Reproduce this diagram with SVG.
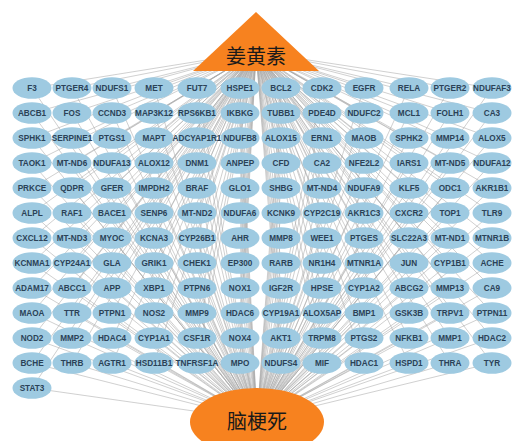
<svg xmlns="http://www.w3.org/2000/svg" width="517" height="441" viewBox="0 0 517 441">
<style>
.bg{fill:#ffffff}
#edges path{stroke:#a8a8a8;stroke-width:0.55;fill:none}
.nd ellipse{fill:#9ecae1}
.nd text{font-family:"Liberation Sans",Arial,sans-serif;font-size:8.2px;font-weight:bold;fill:#2b4257;text-anchor:middle}
.hub{fill:#f7821f}
.hubt{font-family:"Noto Sans CJK SC","Liberation Serif",serif;font-size:20px;fill:#1a1a1a;text-anchor:middle}
</style>
<rect class="bg" x="0" y="0" width="517" height="441"/>
<g id="edges">
<path d="M256 52L32 88M257 420L32 88M256 52L72 88M257 420L72 88M256 52L112 88M257 420L112 88M256 52L154 88M257 420L154 88M256 52L197 88M257 420L197 88M256 52L240 88M257 420L240 88M256 52L281 88M257 420L281 88M256 52L322 88M257 420L322 88M256 52L364 88M257 420L364 88M256 52L409 88M257 420L409 88M256 52L450 88M257 420L450 88M256 52L492 88M257 420L492 88"/>
<path d="M256 52L32 113M257 420L32 113M256 52L72 113M257 420L72 113M256 52L112 113M257 420L112 113M256 52L154 113M257 420L154 113M256 52L197 113M257 420L197 113M256 52L240 113M257 420L240 113M256 52L281 113M257 420L281 113M256 52L322 113M257 420L322 113M256 52L364 113M257 420L364 113M256 52L409 113M257 420L409 113M256 52L450 113M257 420L450 113M256 52L492 113M257 420L492 113"/>
<path d="M256 52L32 138M257 420L32 138M256 52L72 138M257 420L72 138M256 52L112 138M257 420L112 138M256 52L154 138M257 420L154 138M256 52L197 138M257 420L197 138M256 52L240 138M257 420L240 138M256 52L281 138M257 420L281 138M256 52L322 138M257 420L322 138M256 52L364 138M257 420L364 138M256 52L409 138M257 420L409 138M256 52L450 138M257 420L450 138M256 52L492 138M257 420L492 138"/>
<path d="M256 52L32 163M257 420L32 163M256 52L72 163M257 420L72 163M256 52L112 163M257 420L112 163M256 52L154 163M257 420L154 163M256 52L197 163M257 420L197 163M256 52L240 163M257 420L240 163M256 52L281 163M257 420L281 163M256 52L322 163M257 420L322 163M256 52L364 163M257 420L364 163M256 52L409 163M257 420L409 163M256 52L450 163M257 420L450 163M256 52L492 163M257 420L492 163"/>
<path d="M256 52L32 188M257 420L32 188M256 52L72 188M257 420L72 188M256 52L112 188M257 420L112 188M256 52L154 188M257 420L154 188M256 52L197 188M257 420L197 188M256 52L240 188M257 420L240 188M256 52L281 188M257 420L281 188M256 52L322 188M257 420L322 188M256 52L364 188M257 420L364 188M256 52L409 188M257 420L409 188M256 52L450 188M257 420L450 188M256 52L492 188M257 420L492 188"/>
<path d="M256 52L32 213M257 420L32 213M256 52L72 213M257 420L72 213M256 52L112 213M257 420L112 213M256 52L154 213M257 420L154 213M256 52L197 213M257 420L197 213M256 52L240 213M257 420L240 213M256 52L281 213M257 420L281 213M256 52L322 213M257 420L322 213M256 52L364 213M257 420L364 213M256 52L409 213M257 420L409 213M256 52L450 213M257 420L450 213M256 52L492 213M257 420L492 213"/>
<path d="M256 52L32 238M257 420L32 238M256 52L72 238M257 420L72 238M256 52L112 238M257 420L112 238M256 52L154 238M257 420L154 238M256 52L197 238M257 420L197 238M256 52L240 238M257 420L240 238M256 52L281 238M257 420L281 238M256 52L322 238M257 420L322 238M256 52L364 238M257 420L364 238M256 52L409 238M257 420L409 238M256 52L450 238M257 420L450 238M256 52L492 238M257 420L492 238"/>
<path d="M256 52L32 263M257 420L32 263M256 52L72 263M257 420L72 263M256 52L112 263M257 420L112 263M256 52L154 263M257 420L154 263M256 52L197 263M257 420L197 263M256 52L240 263M257 420L240 263M256 52L281 263M257 420L281 263M256 52L322 263M257 420L322 263M256 52L364 263M257 420L364 263M256 52L409 263M257 420L409 263M256 52L450 263M257 420L450 263M256 52L492 263M257 420L492 263"/>
<path d="M256 52L32 288M257 420L32 288M256 52L72 288M257 420L72 288M256 52L112 288M257 420L112 288M256 52L154 288M257 420L154 288M256 52L197 288M257 420L197 288M256 52L240 288M257 420L240 288M256 52L281 288M257 420L281 288M256 52L322 288M257 420L322 288M256 52L364 288M257 420L364 288M256 52L409 288M257 420L409 288M256 52L450 288M257 420L450 288M256 52L492 288M257 420L492 288"/>
<path d="M256 52L32 313M257 420L32 313M256 52L72 313M257 420L72 313M256 52L112 313M257 420L112 313M256 52L154 313M257 420L154 313M256 52L197 313M257 420L197 313M256 52L240 313M257 420L240 313M256 52L281 313M257 420L281 313M256 52L322 313M257 420L322 313M256 52L364 313M257 420L364 313M256 52L409 313M257 420L409 313M256 52L450 313M257 420L450 313M256 52L492 313M257 420L492 313"/>
<path d="M256 52L32 338M257 420L32 338M256 52L72 338M257 420L72 338M256 52L112 338M257 420L112 338M256 52L154 338M257 420L154 338M256 52L197 338M257 420L197 338M256 52L240 338M257 420L240 338M256 52L281 338M257 420L281 338M256 52L322 338M257 420L322 338M256 52L364 338M257 420L364 338M256 52L409 338M257 420L409 338M256 52L450 338M257 420L450 338M256 52L492 338M257 420L492 338"/>
<path d="M256 52L32 363M257 420L32 363M256 52L72 363M257 420L72 363M256 52L112 363M257 420L112 363M256 52L154 363M257 420L154 363M256 52L197 363M257 420L197 363M256 52L240 363M257 420L240 363M256 52L281 363M257 420L281 363M256 52L322 363M257 420L322 363M256 52L364 363M257 420L364 363M256 52L409 363M257 420L409 363M256 52L450 363M257 420L450 363M256 52L492 363M257 420L492 363"/>
<path d="M256 52L32 388M257 420L32 388"/>
</g>
<g id="curcumin"><polygon class="hub" points="256,12 193,71 319,71"/><text class="hubt" x="256" y="64">姜黄素</text></g>
<g id="infarction"><ellipse class="hub" cx="257" cy="422" rx="67" ry="34"/><text class="hubt" x="257" y="429">脑梗死</text></g>
<g id="nodes">
<g id="n-F3" class="nd"><ellipse cx="32" cy="88" rx="19.5" ry="10.8"/><text x="32" y="91">F3</text></g>
<g id="n-PTGER4" class="nd"><ellipse cx="72" cy="88" rx="19.5" ry="10.8"/><text x="72" y="91">PTGER4</text></g>
<g id="n-NDUFS1" class="nd"><ellipse cx="112" cy="88" rx="19.5" ry="10.8"/><text x="112" y="91">NDUFS1</text></g>
<g id="n-MET" class="nd"><ellipse cx="154" cy="88" rx="19.5" ry="10.8"/><text x="154" y="91">MET</text></g>
<g id="n-FUT7" class="nd"><ellipse cx="197" cy="88" rx="19.5" ry="10.8"/><text x="197" y="91">FUT7</text></g>
<g id="n-HSPE1" class="nd"><ellipse cx="240" cy="88" rx="19.5" ry="10.8"/><text x="240" y="91">HSPE1</text></g>
<g id="n-BCL2" class="nd"><ellipse cx="281" cy="88" rx="19.5" ry="10.8"/><text x="281" y="91">BCL2</text></g>
<g id="n-CDK2" class="nd"><ellipse cx="322" cy="88" rx="19.5" ry="10.8"/><text x="322" y="91">CDK2</text></g>
<g id="n-EGFR" class="nd"><ellipse cx="364" cy="88" rx="19.5" ry="10.8"/><text x="364" y="91">EGFR</text></g>
<g id="n-RELA" class="nd"><ellipse cx="409" cy="88" rx="19.5" ry="10.8"/><text x="409" y="91">RELA</text></g>
<g id="n-PTGER2" class="nd"><ellipse cx="450" cy="88" rx="19.5" ry="10.8"/><text x="450" y="91">PTGER2</text></g>
<g id="n-NDUFAF3" class="nd"><ellipse cx="492" cy="88" rx="19.5" ry="10.8"/><text x="492" y="91">NDUFAF3</text></g>
<g id="n-ABCB1" class="nd"><ellipse cx="32" cy="113" rx="19.5" ry="10.8"/><text x="32" y="116">ABCB1</text></g>
<g id="n-FOS" class="nd"><ellipse cx="72" cy="113" rx="19.5" ry="10.8"/><text x="72" y="116">FOS</text></g>
<g id="n-CCND3" class="nd"><ellipse cx="112" cy="113" rx="19.5" ry="10.8"/><text x="112" y="116">CCND3</text></g>
<g id="n-MAP3K12" class="nd"><ellipse cx="154" cy="113" rx="19.5" ry="10.8"/><text x="154" y="116">MAP3K12</text></g>
<g id="n-RPS6KB1" class="nd"><ellipse cx="197" cy="113" rx="19.5" ry="10.8"/><text x="197" y="116">RPS6KB1</text></g>
<g id="n-IKBKG" class="nd"><ellipse cx="240" cy="113" rx="19.5" ry="10.8"/><text x="240" y="116">IKBKG</text></g>
<g id="n-TUBB1" class="nd"><ellipse cx="281" cy="113" rx="19.5" ry="10.8"/><text x="281" y="116">TUBB1</text></g>
<g id="n-PDE4D" class="nd"><ellipse cx="322" cy="113" rx="19.5" ry="10.8"/><text x="322" y="116">PDE4D</text></g>
<g id="n-NDUFC2" class="nd"><ellipse cx="364" cy="113" rx="19.5" ry="10.8"/><text x="364" y="116">NDUFC2</text></g>
<g id="n-MCL1" class="nd"><ellipse cx="409" cy="113" rx="19.5" ry="10.8"/><text x="409" y="116">MCL1</text></g>
<g id="n-FOLH1" class="nd"><ellipse cx="450" cy="113" rx="19.5" ry="10.8"/><text x="450" y="116">FOLH1</text></g>
<g id="n-CA3" class="nd"><ellipse cx="492" cy="113" rx="19.5" ry="10.8"/><text x="492" y="116">CA3</text></g>
<g id="n-SPHK1" class="nd"><ellipse cx="32" cy="138" rx="19.5" ry="10.8"/><text x="32" y="141">SPHK1</text></g>
<g id="n-SERPINE1" class="nd"><ellipse cx="72" cy="138" rx="19.5" ry="10.8"/><text x="72" y="141">SERPINE1</text></g>
<g id="n-PTGS1" class="nd"><ellipse cx="112" cy="138" rx="19.5" ry="10.8"/><text x="112" y="141">PTGS1</text></g>
<g id="n-MAPT" class="nd"><ellipse cx="154" cy="138" rx="19.5" ry="10.8"/><text x="154" y="141">MAPT</text></g>
<g id="n-ADCYAP1R1" class="nd"><ellipse cx="197" cy="138" rx="19.5" ry="10.8"/><text x="197" y="141">ADCYAP1R1</text></g>
<g id="n-NDUFB8" class="nd"><ellipse cx="240" cy="138" rx="19.5" ry="10.8"/><text x="240" y="141">NDUFB8</text></g>
<g id="n-ALOX15" class="nd"><ellipse cx="281" cy="138" rx="19.5" ry="10.8"/><text x="281" y="141">ALOX15</text></g>
<g id="n-ERN1" class="nd"><ellipse cx="322" cy="138" rx="19.5" ry="10.8"/><text x="322" y="141">ERN1</text></g>
<g id="n-MAOB" class="nd"><ellipse cx="364" cy="138" rx="19.5" ry="10.8"/><text x="364" y="141">MAOB</text></g>
<g id="n-SPHK2" class="nd"><ellipse cx="409" cy="138" rx="19.5" ry="10.8"/><text x="409" y="141">SPHK2</text></g>
<g id="n-MMP14" class="nd"><ellipse cx="450" cy="138" rx="19.5" ry="10.8"/><text x="450" y="141">MMP14</text></g>
<g id="n-ALOX5" class="nd"><ellipse cx="492" cy="138" rx="19.5" ry="10.8"/><text x="492" y="141">ALOX5</text></g>
<g id="n-TAOK1" class="nd"><ellipse cx="32" cy="163" rx="19.5" ry="10.8"/><text x="32" y="166">TAOK1</text></g>
<g id="n-MT-ND6" class="nd"><ellipse cx="72" cy="163" rx="19.5" ry="10.8"/><text x="72" y="166">MT-ND6</text></g>
<g id="n-NDUFA13" class="nd"><ellipse cx="112" cy="163" rx="19.5" ry="10.8"/><text x="112" y="166">NDUFA13</text></g>
<g id="n-ALOX12" class="nd"><ellipse cx="154" cy="163" rx="19.5" ry="10.8"/><text x="154" y="166">ALOX12</text></g>
<g id="n-DNM1" class="nd"><ellipse cx="197" cy="163" rx="19.5" ry="10.8"/><text x="197" y="166">DNM1</text></g>
<g id="n-ANPEP" class="nd"><ellipse cx="240" cy="163" rx="19.5" ry="10.8"/><text x="240" y="166">ANPEP</text></g>
<g id="n-CFD" class="nd"><ellipse cx="281" cy="163" rx="19.5" ry="10.8"/><text x="281" y="166">CFD</text></g>
<g id="n-CA2" class="nd"><ellipse cx="322" cy="163" rx="19.5" ry="10.8"/><text x="322" y="166">CA2</text></g>
<g id="n-NFE2L2" class="nd"><ellipse cx="364" cy="163" rx="19.5" ry="10.8"/><text x="364" y="166">NFE2L2</text></g>
<g id="n-IARS1" class="nd"><ellipse cx="409" cy="163" rx="19.5" ry="10.8"/><text x="409" y="166">IARS1</text></g>
<g id="n-MT-ND5" class="nd"><ellipse cx="450" cy="163" rx="19.5" ry="10.8"/><text x="450" y="166">MT-ND5</text></g>
<g id="n-NDUFA12" class="nd"><ellipse cx="492" cy="163" rx="19.5" ry="10.8"/><text x="492" y="166">NDUFA12</text></g>
<g id="n-PRKCE" class="nd"><ellipse cx="32" cy="188" rx="19.5" ry="10.8"/><text x="32" y="191">PRKCE</text></g>
<g id="n-QDPR" class="nd"><ellipse cx="72" cy="188" rx="19.5" ry="10.8"/><text x="72" y="191">QDPR</text></g>
<g id="n-GFER" class="nd"><ellipse cx="112" cy="188" rx="19.5" ry="10.8"/><text x="112" y="191">GFER</text></g>
<g id="n-IMPDH2" class="nd"><ellipse cx="154" cy="188" rx="19.5" ry="10.8"/><text x="154" y="191">IMPDH2</text></g>
<g id="n-BRAF" class="nd"><ellipse cx="197" cy="188" rx="19.5" ry="10.8"/><text x="197" y="191">BRAF</text></g>
<g id="n-GLO1" class="nd"><ellipse cx="240" cy="188" rx="19.5" ry="10.8"/><text x="240" y="191">GLO1</text></g>
<g id="n-SHBG" class="nd"><ellipse cx="281" cy="188" rx="19.5" ry="10.8"/><text x="281" y="191">SHBG</text></g>
<g id="n-MT-ND4" class="nd"><ellipse cx="322" cy="188" rx="19.5" ry="10.8"/><text x="322" y="191">MT-ND4</text></g>
<g id="n-NDUFA9" class="nd"><ellipse cx="364" cy="188" rx="19.5" ry="10.8"/><text x="364" y="191">NDUFA9</text></g>
<g id="n-KLF5" class="nd"><ellipse cx="409" cy="188" rx="19.5" ry="10.8"/><text x="409" y="191">KLF5</text></g>
<g id="n-ODC1" class="nd"><ellipse cx="450" cy="188" rx="19.5" ry="10.8"/><text x="450" y="191">ODC1</text></g>
<g id="n-AKR1B1" class="nd"><ellipse cx="492" cy="188" rx="19.5" ry="10.8"/><text x="492" y="191">AKR1B1</text></g>
<g id="n-ALPL" class="nd"><ellipse cx="32" cy="213" rx="19.5" ry="10.8"/><text x="32" y="216">ALPL</text></g>
<g id="n-RAF1" class="nd"><ellipse cx="72" cy="213" rx="19.5" ry="10.8"/><text x="72" y="216">RAF1</text></g>
<g id="n-BACE1" class="nd"><ellipse cx="112" cy="213" rx="19.5" ry="10.8"/><text x="112" y="216">BACE1</text></g>
<g id="n-SENP6" class="nd"><ellipse cx="154" cy="213" rx="19.5" ry="10.8"/><text x="154" y="216">SENP6</text></g>
<g id="n-MT-ND2" class="nd"><ellipse cx="197" cy="213" rx="19.5" ry="10.8"/><text x="197" y="216">MT-ND2</text></g>
<g id="n-NDUFA6" class="nd"><ellipse cx="240" cy="213" rx="19.5" ry="10.8"/><text x="240" y="216">NDUFA6</text></g>
<g id="n-KCNK9" class="nd"><ellipse cx="281" cy="213" rx="19.5" ry="10.8"/><text x="281" y="216">KCNK9</text></g>
<g id="n-CYP2C19" class="nd"><ellipse cx="322" cy="213" rx="19.5" ry="10.8"/><text x="322" y="216">CYP2C19</text></g>
<g id="n-AKR1C3" class="nd"><ellipse cx="364" cy="213" rx="19.5" ry="10.8"/><text x="364" y="216">AKR1C3</text></g>
<g id="n-CXCR2" class="nd"><ellipse cx="409" cy="213" rx="19.5" ry="10.8"/><text x="409" y="216">CXCR2</text></g>
<g id="n-TOP1" class="nd"><ellipse cx="450" cy="213" rx="19.5" ry="10.8"/><text x="450" y="216">TOP1</text></g>
<g id="n-TLR9" class="nd"><ellipse cx="492" cy="213" rx="19.5" ry="10.8"/><text x="492" y="216">TLR9</text></g>
<g id="n-CXCL12" class="nd"><ellipse cx="32" cy="238" rx="19.5" ry="10.8"/><text x="32" y="241">CXCL12</text></g>
<g id="n-MT-ND3" class="nd"><ellipse cx="72" cy="238" rx="19.5" ry="10.8"/><text x="72" y="241">MT-ND3</text></g>
<g id="n-MYOC" class="nd"><ellipse cx="112" cy="238" rx="19.5" ry="10.8"/><text x="112" y="241">MYOC</text></g>
<g id="n-KCNA3" class="nd"><ellipse cx="154" cy="238" rx="19.5" ry="10.8"/><text x="154" y="241">KCNA3</text></g>
<g id="n-CYP26B1" class="nd"><ellipse cx="197" cy="238" rx="19.5" ry="10.8"/><text x="197" y="241">CYP26B1</text></g>
<g id="n-AHR" class="nd"><ellipse cx="240" cy="238" rx="19.5" ry="10.8"/><text x="240" y="241">AHR</text></g>
<g id="n-MMP8" class="nd"><ellipse cx="281" cy="238" rx="19.5" ry="10.8"/><text x="281" y="241">MMP8</text></g>
<g id="n-WEE1" class="nd"><ellipse cx="322" cy="238" rx="19.5" ry="10.8"/><text x="322" y="241">WEE1</text></g>
<g id="n-PTGES" class="nd"><ellipse cx="364" cy="238" rx="19.5" ry="10.8"/><text x="364" y="241">PTGES</text></g>
<g id="n-SLC22A3" class="nd"><ellipse cx="409" cy="238" rx="19.5" ry="10.8"/><text x="409" y="241">SLC22A3</text></g>
<g id="n-MT-ND1" class="nd"><ellipse cx="450" cy="238" rx="19.5" ry="10.8"/><text x="450" y="241">MT-ND1</text></g>
<g id="n-MTNR1B" class="nd"><ellipse cx="492" cy="238" rx="19.5" ry="10.8"/><text x="492" y="241">MTNR1B</text></g>
<g id="n-KCNMA1" class="nd"><ellipse cx="32" cy="263" rx="19.5" ry="10.8"/><text x="32" y="266">KCNMA1</text></g>
<g id="n-CYP24A1" class="nd"><ellipse cx="72" cy="263" rx="19.5" ry="10.8"/><text x="72" y="266">CYP24A1</text></g>
<g id="n-GLA" class="nd"><ellipse cx="112" cy="263" rx="19.5" ry="10.8"/><text x="112" y="266">GLA</text></g>
<g id="n-GRIK1" class="nd"><ellipse cx="154" cy="263" rx="19.5" ry="10.8"/><text x="154" y="266">GRIK1</text></g>
<g id="n-CHEK1" class="nd"><ellipse cx="197" cy="263" rx="19.5" ry="10.8"/><text x="197" y="266">CHEK1</text></g>
<g id="n-EP300" class="nd"><ellipse cx="240" cy="263" rx="19.5" ry="10.8"/><text x="240" y="266">EP300</text></g>
<g id="n-RARB" class="nd"><ellipse cx="281" cy="263" rx="19.5" ry="10.8"/><text x="281" y="266">RARB</text></g>
<g id="n-NR1H4" class="nd"><ellipse cx="322" cy="263" rx="19.5" ry="10.8"/><text x="322" y="266">NR1H4</text></g>
<g id="n-MTNR1A" class="nd"><ellipse cx="364" cy="263" rx="19.5" ry="10.8"/><text x="364" y="266">MTNR1A</text></g>
<g id="n-JUN" class="nd"><ellipse cx="409" cy="263" rx="19.5" ry="10.8"/><text x="409" y="266">JUN</text></g>
<g id="n-CYP1B1" class="nd"><ellipse cx="450" cy="263" rx="19.5" ry="10.8"/><text x="450" y="266">CYP1B1</text></g>
<g id="n-ACHE" class="nd"><ellipse cx="492" cy="263" rx="19.5" ry="10.8"/><text x="492" y="266">ACHE</text></g>
<g id="n-ADAM17" class="nd"><ellipse cx="32" cy="288" rx="19.5" ry="10.8"/><text x="32" y="291">ADAM17</text></g>
<g id="n-ABCC1" class="nd"><ellipse cx="72" cy="288" rx="19.5" ry="10.8"/><text x="72" y="291">ABCC1</text></g>
<g id="n-APP" class="nd"><ellipse cx="112" cy="288" rx="19.5" ry="10.8"/><text x="112" y="291">APP</text></g>
<g id="n-XBP1" class="nd"><ellipse cx="154" cy="288" rx="19.5" ry="10.8"/><text x="154" y="291">XBP1</text></g>
<g id="n-PTPN6" class="nd"><ellipse cx="197" cy="288" rx="19.5" ry="10.8"/><text x="197" y="291">PTPN6</text></g>
<g id="n-NOX1" class="nd"><ellipse cx="240" cy="288" rx="19.5" ry="10.8"/><text x="240" y="291">NOX1</text></g>
<g id="n-IGF2R" class="nd"><ellipse cx="281" cy="288" rx="19.5" ry="10.8"/><text x="281" y="291">IGF2R</text></g>
<g id="n-HPSE" class="nd"><ellipse cx="322" cy="288" rx="19.5" ry="10.8"/><text x="322" y="291">HPSE</text></g>
<g id="n-CYP1A2" class="nd"><ellipse cx="364" cy="288" rx="19.5" ry="10.8"/><text x="364" y="291">CYP1A2</text></g>
<g id="n-ABCG2" class="nd"><ellipse cx="409" cy="288" rx="19.5" ry="10.8"/><text x="409" y="291">ABCG2</text></g>
<g id="n-MMP13" class="nd"><ellipse cx="450" cy="288" rx="19.5" ry="10.8"/><text x="450" y="291">MMP13</text></g>
<g id="n-CA9" class="nd"><ellipse cx="492" cy="288" rx="19.5" ry="10.8"/><text x="492" y="291">CA9</text></g>
<g id="n-MAOA" class="nd"><ellipse cx="32" cy="313" rx="19.5" ry="10.8"/><text x="32" y="316">MAOA</text></g>
<g id="n-TTR" class="nd"><ellipse cx="72" cy="313" rx="19.5" ry="10.8"/><text x="72" y="316">TTR</text></g>
<g id="n-PTPN1" class="nd"><ellipse cx="112" cy="313" rx="19.5" ry="10.8"/><text x="112" y="316">PTPN1</text></g>
<g id="n-NOS2" class="nd"><ellipse cx="154" cy="313" rx="19.5" ry="10.8"/><text x="154" y="316">NOS2</text></g>
<g id="n-MMP9" class="nd"><ellipse cx="197" cy="313" rx="19.5" ry="10.8"/><text x="197" y="316">MMP9</text></g>
<g id="n-HDAC6" class="nd"><ellipse cx="240" cy="313" rx="19.5" ry="10.8"/><text x="240" y="316">HDAC6</text></g>
<g id="n-CYP19A1" class="nd"><ellipse cx="281" cy="313" rx="19.5" ry="10.8"/><text x="281" y="316">CYP19A1</text></g>
<g id="n-ALOX5AP" class="nd"><ellipse cx="322" cy="313" rx="19.5" ry="10.8"/><text x="322" y="316">ALOX5AP</text></g>
<g id="n-BMP1" class="nd"><ellipse cx="364" cy="313" rx="19.5" ry="10.8"/><text x="364" y="316">BMP1</text></g>
<g id="n-GSK3B" class="nd"><ellipse cx="409" cy="313" rx="19.5" ry="10.8"/><text x="409" y="316">GSK3B</text></g>
<g id="n-TRPV1" class="nd"><ellipse cx="450" cy="313" rx="19.5" ry="10.8"/><text x="450" y="316">TRPV1</text></g>
<g id="n-PTPN11" class="nd"><ellipse cx="492" cy="313" rx="19.5" ry="10.8"/><text x="492" y="316">PTPN11</text></g>
<g id="n-NOD2" class="nd"><ellipse cx="32" cy="338" rx="19.5" ry="10.8"/><text x="32" y="341">NOD2</text></g>
<g id="n-MMP2" class="nd"><ellipse cx="72" cy="338" rx="19.5" ry="10.8"/><text x="72" y="341">MMP2</text></g>
<g id="n-HDAC4" class="nd"><ellipse cx="112" cy="338" rx="19.5" ry="10.8"/><text x="112" y="341">HDAC4</text></g>
<g id="n-CYP1A1" class="nd"><ellipse cx="154" cy="338" rx="19.5" ry="10.8"/><text x="154" y="341">CYP1A1</text></g>
<g id="n-CSF1R" class="nd"><ellipse cx="197" cy="338" rx="19.5" ry="10.8"/><text x="197" y="341">CSF1R</text></g>
<g id="n-NOX4" class="nd"><ellipse cx="240" cy="338" rx="19.5" ry="10.8"/><text x="240" y="341">NOX4</text></g>
<g id="n-AKT1" class="nd"><ellipse cx="281" cy="338" rx="19.5" ry="10.8"/><text x="281" y="341">AKT1</text></g>
<g id="n-TRPM8" class="nd"><ellipse cx="322" cy="338" rx="19.5" ry="10.8"/><text x="322" y="341">TRPM8</text></g>
<g id="n-PTGS2" class="nd"><ellipse cx="364" cy="338" rx="19.5" ry="10.8"/><text x="364" y="341">PTGS2</text></g>
<g id="n-NFKB1" class="nd"><ellipse cx="409" cy="338" rx="19.5" ry="10.8"/><text x="409" y="341">NFKB1</text></g>
<g id="n-MMP1" class="nd"><ellipse cx="450" cy="338" rx="19.5" ry="10.8"/><text x="450" y="341">MMP1</text></g>
<g id="n-HDAC2" class="nd"><ellipse cx="492" cy="338" rx="19.5" ry="10.8"/><text x="492" y="341">HDAC2</text></g>
<g id="n-BCHE" class="nd"><ellipse cx="32" cy="363" rx="19.5" ry="10.8"/><text x="32" y="366">BCHE</text></g>
<g id="n-THRB" class="nd"><ellipse cx="72" cy="363" rx="19.5" ry="10.8"/><text x="72" y="366">THRB</text></g>
<g id="n-AGTR1" class="nd"><ellipse cx="112" cy="363" rx="19.5" ry="10.8"/><text x="112" y="366">AGTR1</text></g>
<g id="n-HSD11B1" class="nd"><ellipse cx="154" cy="363" rx="19.5" ry="10.8"/><text x="154" y="366">HSD11B1</text></g>
<g id="n-TNFRSF1A" class="nd"><ellipse cx="197" cy="363" rx="19.5" ry="10.8"/><text x="197" y="366">TNFRSF1A</text></g>
<g id="n-MPO" class="nd"><ellipse cx="240" cy="363" rx="19.5" ry="10.8"/><text x="240" y="366">MPO</text></g>
<g id="n-NDUFS4" class="nd"><ellipse cx="281" cy="363" rx="19.5" ry="10.8"/><text x="281" y="366">NDUFS4</text></g>
<g id="n-MIF" class="nd"><ellipse cx="322" cy="363" rx="19.5" ry="10.8"/><text x="322" y="366">MIF</text></g>
<g id="n-HDAC1" class="nd"><ellipse cx="364" cy="363" rx="19.5" ry="10.8"/><text x="364" y="366">HDAC1</text></g>
<g id="n-HSPD1" class="nd"><ellipse cx="409" cy="363" rx="19.5" ry="10.8"/><text x="409" y="366">HSPD1</text></g>
<g id="n-THRA" class="nd"><ellipse cx="450" cy="363" rx="19.5" ry="10.8"/><text x="450" y="366">THRA</text></g>
<g id="n-TYR" class="nd"><ellipse cx="492" cy="363" rx="19.5" ry="10.8"/><text x="492" y="366">TYR</text></g>
<g id="n-STAT3" class="nd"><ellipse cx="32" cy="388" rx="19.5" ry="10.8"/><text x="32" y="391">STAT3</text></g>
</g>
</svg>
